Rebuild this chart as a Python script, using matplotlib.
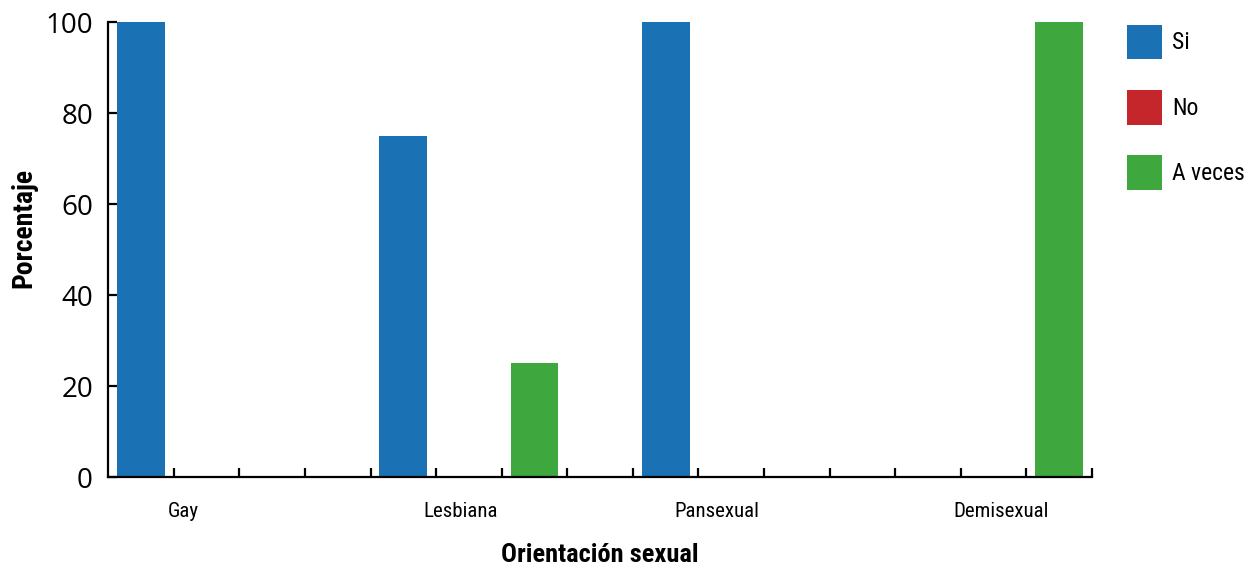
import matplotlib
matplotlib.use("Agg")
import matplotlib.pyplot as plt
from matplotlib import font_manager
from matplotlib.font_manager import FontProperties
from matplotlib.patches import Patch
import numpy as np

categories = ["Gay", "Lesbiana", "Pansexual", "Demisexual"]
series = ["Si", "No", "A veces"]
si = [100, 75, 100, 0]
no = [0, 0, 0, 0]
a_veces = [0, 25, 0, 100]
yticks = [0, 20, 40, 60, 80, 100]
# where the category names sit, in bar-slot units (as in the original)
label_pos = [0.64, 4.88, 8.78, 13.11]

colors = ["#1a72b4", "#c5262c", "#3ea83f"]


def narrow_font(size, weight="normal"):
    # look for a condensed face; fall back to plain DejaVu
    names = {f.name for f in font_manager.fontManager.ttflist}
    for fam in ["Liberation Sans Narrow", "Roboto Condensed", "Open Sans Condensed",
                "Noto Sans Condensed", "DejaVu Sans Condensed"]:
        if fam in names:
            return FontProperties(family=fam, size=size, weight=weight)
    for fam in ["DejaVu Sans", "Noto Sans", "Open Sans"]:
        fp = FontProperties(family=fam, size=size, weight=weight, stretch="condensed")
        if "ondensed" in font_manager.findfont(fp):
            return fp
    return FontProperties(family="DejaVu Sans", size=size * 0.9, weight=weight)


plain = FontProperties(family="Open Sans", size=20)

fig = plt.figure(figsize=(12.49, 5.72), dpi=100)
ax = fig.add_axes([0.0866, 0.166, 0.7877, 0.7955])

# 4 slots per group: three bars and an empty gap
slots = np.arange(len(categories)) * 4
for i, (vals, c) in enumerate(zip([si, no, a_veces], colors)):
    ax.bar(slots + i, vals, width=0.73, color=c, zorder=1)

ax.set_xlim(-0.5, 14.5)
ax.set_ylim(0, 100)

for s in ["top", "right"]:
    ax.spines[s].set_visible(False)
for s in ["left", "bottom"]:
    ax.spines[s].set_linewidth(1.6)
    ax.spines[s].set_zorder(3)

ax.set_xticks(np.arange(0.5, 15, 1.0))
ax.set_xticklabels([])
ax.set_xticks(label_pos, minor=True)
ax.set_xticklabels(categories, minor=True, fontproperties=narrow_font(15))
ax.tick_params(axis="x", which="major", direction="in", length=6.5, width=1.6)
ax.tick_params(axis="x", which="minor", length=0, pad=18)

ax.set_yticks(yticks)
ax.set_yticklabels([str(v) for v in yticks], fontproperties=plain)
ax.tick_params(axis="y", direction="in", length=6.5, width=1.6, pad=11)

ax.set_xlabel("Orientación sexual", fontproperties=narrow_font(19, "bold"), labelpad=16)
ax.set_ylabel("Porcentaje", fontproperties=narrow_font(20, "bold"), labelpad=14)
ax.yaxis.set_label_coords(-0.072, 0.547)

handles = [Patch(facecolor=c, edgecolor="none", label=l) for c, l in zip(colors, series)]
fig.legend(handles=handles, loc="upper left", bbox_to_anchor=(0.902, 0.957),
           frameon=False, prop=narrow_font(17),
           handlelength=1.48, handleheight=1.88, handletextpad=0.45,
           labelspacing=1.3, borderpad=0, borderaxespad=0)

fig.savefig("out.png", dpi=100)
